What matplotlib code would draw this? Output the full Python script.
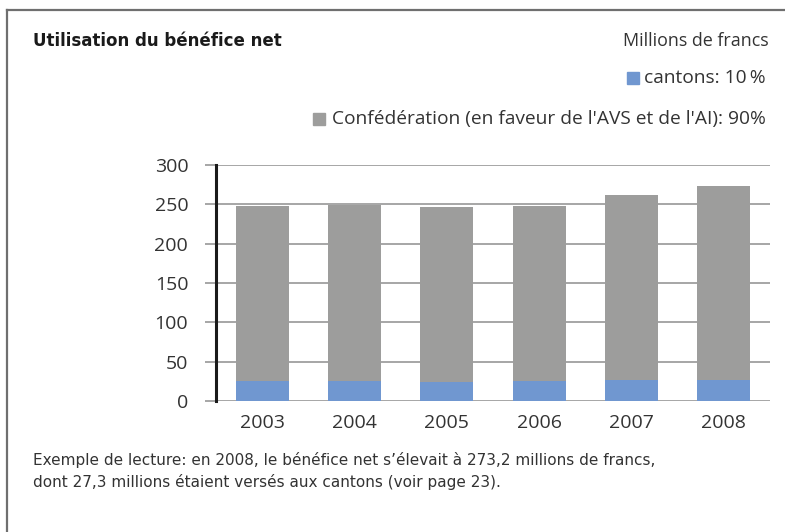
import numpy as np
import matplotlib.pyplot as plt
from matplotlib.patches import Rectangle
from matplotlib.lines import Line2D

# Bénéfice net en millions de francs
annees = ["2003", "2004", "2005", "2006", "2007", "2008"]
cantons = [24.8, 25.0, 24.7, 24.8, 26.2, 27.3]
confederation = [223.0, 224.6, 221.9, 222.9, 235.8, 245.9]

serie_labels = ["cantons: 10\u2009%", "Confédération (en faveur de l'AVS et de l'AI): 90%"]
couleurs = ["#7097d0", "#9d9d9c"]

titre = "Utilisation du bénéfice net"
unite = "Millions de francs"
note = ("Exemple de lecture: en 2008, le bénéfice net s\u2019élevait à 273,2 millions de francs,\n"
        "dont 27,3 millions étaient versés aux cantons (voir page 23).")

W, H = 785, 532
plt.rcParams['font.family'] = ['Open Sans', 'DejaVu Sans']

fig = plt.figure(figsize=(W / 100, H / 100), dpi=100)


def fx(px):
    return px / W


def fy(py):
    return 1 - py / H


# cadre (haut et gauche)
fig.add_artist(Line2D([fx(7), fx(784)], [fy(10), fy(10)], color="#6f6f6f", lw=1.6))
fig.add_artist(Line2D([fx(7), fx(7)], [fy(10), fy(532)], color="#6f6f6f", lw=1.6))

ax = fig.add_axes([fx(216), fy(401), fx(770) - fx(216), fy(165) - fy(401)])
x = np.arange(len(annees))
largeur = 0.575
ax.bar(x, cantons, width=largeur, color=couleurs[0], zorder=3)
ax.bar(x, confederation, width=largeur, bottom=cantons, color=couleurs[1], zorder=3)

ax.set_xlim(-0.5, len(annees) - 0.5)
ax.set_ylim(0, 300)
ax.set_yticks(np.arange(0, 301, 50))
ax.set_xticks(x)
ax.set_xticklabels(annees)
ax.yaxis.grid(True, color="#a6a6a6", lw=1.4, zorder=0)
ax.tick_params(axis="y", length=8, width=1.4, color="#a6a6a6", pad=12,
               labelsize=14, labelcolor="#333333")
ax.tick_params(axis="x", length=0, pad=9, labelsize=14, labelcolor="#333333")
for s in ["top", "right", "bottom"]:
    ax.spines[s].set_visible(False)
ax.spines["left"].set_color("#1a1a1a")
ax.spines["left"].set_linewidth(2.2)
ax.spines["left"].set_zorder(4)

# titre et unité
fig.text(fx(33), fy(41), titre, fontsize=12, fontweight="bold", color="#1a1a1a",
         ha="left", va="center", family="DejaVu Sans")
fig.text(fx(769), fy(41), unite, fontsize=12.9, color="#333333", ha="right", va="center")

# légende
leg_y = [78, 119]
leg_txt_right = 766
carre = 12
for lab, col, py, gap in zip(serie_labels, couleurs, leg_y, [5, 7]):
    t = fig.text(fx(leg_txt_right), fy(py), lab, fontsize=13.8, color="#333333",
                 ha="right", va="center", family=["Open Sans", "DejaVu Sans"])
    fig.canvas.draw()
    bb = t.get_window_extent()
    x0 = bb.x0 - gap - carre
    fig.add_artist(Rectangle((fx(x0), fy(py + carre / 2)), fx(carre), carre / H,
                             color=col, transform=fig.transFigure))

# note de lecture
fig.text(fx(33), fy(471), note, fontsize=11, color="#333333", ha="left", va="center",
         linespacing=1.45, family="DejaVu Sans")

fig.savefig("out.png", dpi=100)
